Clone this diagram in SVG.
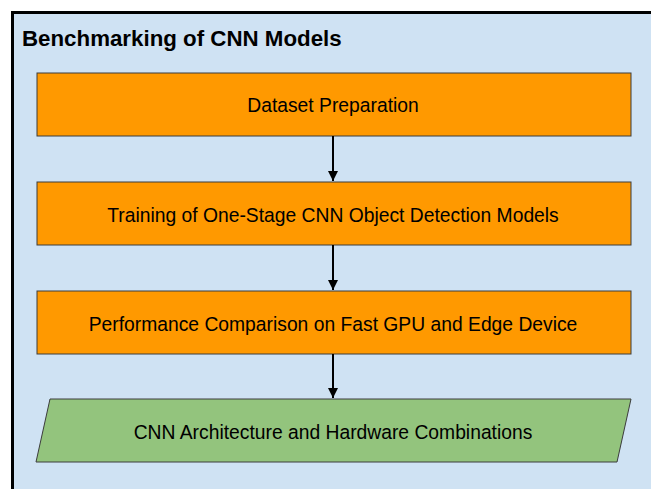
<svg xmlns="http://www.w3.org/2000/svg" width="651" height="489" viewBox="0 0 651 489">
<style>
.box{fill:#ff9900;stroke:#3c3c3c;stroke-width:1}
.io{fill:#93c47d;stroke:#3c3c3c;stroke-width:1}
.t{font-family:"Liberation Sans",Arial,sans-serif;font-size:19.3px;fill:#000;text-anchor:middle}
.title{font-family:"Liberation Sans",Arial,sans-serif;font-size:22.3px;font-weight:bold;fill:#000}
.c{stroke:#000;stroke-width:2;fill:none}
</style>
<defs>
<marker id="ah" viewBox="0 0 10 10" refX="10" refY="5" markerWidth="5" markerHeight="5" markerUnits="strokeWidth" orient="auto">
<path d="M0,0 L10,5 L0,10 z" fill="#000"/>
</marker>
</defs>
<rect width="651" height="489" fill="#ffffff"/>
<g id="container">
<rect x="12.5" y="12.5" width="660" height="500" fill="#cfe2f3" stroke="#000" stroke-width="3"/>
<text class="title" x="22" y="45.5">Benchmarking of CNN Models</text>
</g>
<g id="n1">
<rect class="box" x="37" y="73" width="594" height="63"/>
<text class="t" x="333" y="111.5">Dataset Preparation</text>
</g>
<g id="n2">
<rect class="box" x="37" y="182" width="594" height="63"/>
<text class="t" x="333" y="221.5">Training of One-Stage CNN Object Detection Models</text>
</g>
<g id="n3">
<rect class="box" x="37" y="291" width="594" height="63"/>
<text class="t" x="333" y="330.5">Performance Comparison on Fast GPU and Edge Device</text>
</g>
<g id="n4">
<polygon class="io" points="50,399 631,399 617,462 36,462"/>
<text class="t" x="333" y="439">CNN Architecture and Hardware Combinations</text>
</g>
<g id="connectors">
<line class="c" x1="333" y1="136" x2="333" y2="181" marker-end="url(#ah)"/>
<line class="c" x1="333" y1="245" x2="333" y2="290" marker-end="url(#ah)"/>
<line class="c" x1="333" y1="354" x2="333" y2="398" marker-end="url(#ah)"/>
</g>
</svg>
